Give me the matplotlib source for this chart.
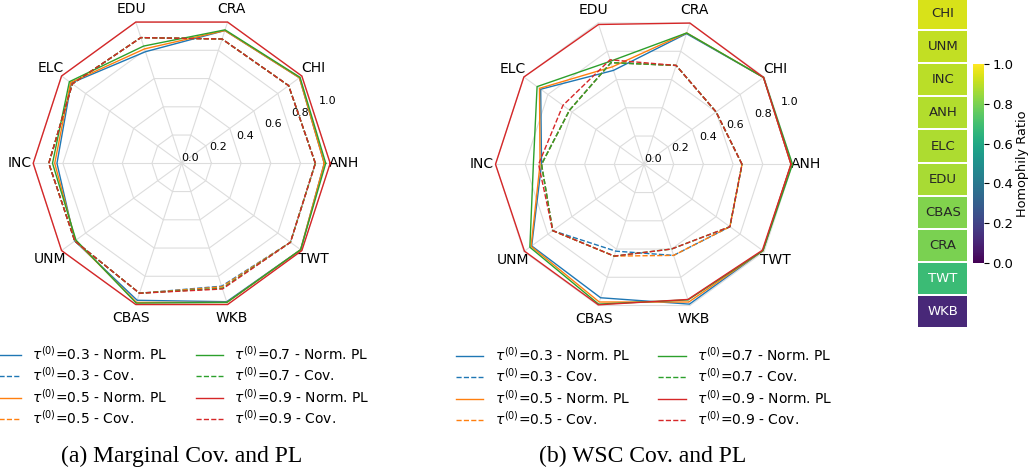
import numpy as np
import matplotlib.pyplot as plt
import seaborn as sns

cats = ["ANH", "CHI", "CRA", "EDU", "ELC", "INC", "UNM", "CBAS", "WKB", "TWT"]
taus = ["0.3", "0.5", "0.7", "0.9"]
colors = ["tab:blue", "tab:orange", "tab:green", "tab:red"]

# (a) marginal coverage and normalised prediction length
marg_pl_03 = [0.96, 0.98, 0.94, 0.79, 0.92, 0.84, 0.89, 0.97, 0.98, 0.99]
marg_pl_05 = [0.96, 0.98, 0.94, 0.81, 0.925, 0.855, 0.885, 0.985, 0.985, 0.99]
marg_pl_07 = [0.97, 0.985, 0.945, 0.83, 0.935, 0.87, 0.88, 0.99, 0.985, 0.99]
marg_pl_09 = [1.0, 1.0, 1.0, 1.0, 1.0, 1.0, 1.0, 1.0, 1.0, 1.0]
marg_cov_03 = [0.90, 0.89, 0.88, 0.89, 0.91, 0.895, 0.89, 0.92, 0.87, 0.905]
marg_cov_05 = [0.90, 0.89, 0.88, 0.89, 0.91, 0.895, 0.89, 0.92, 0.875, 0.905]
marg_cov_07 = [0.90, 0.89, 0.88, 0.89, 0.91, 0.895, 0.89, 0.92, 0.885, 0.905]
marg_cov_09 = [0.90, 0.89, 0.88, 0.89, 0.91, 0.895, 0.89, 0.92, 0.89, 0.905]

# (b) worst-slice coverage and normalised prediction length
wsc_pl_03 = [0.99, 0.995, 0.925, 0.665, 0.86, 0.69, 0.935, 0.945, 0.99, 0.99]
wsc_pl_05 = [0.99, 0.995, 0.93, 0.69, 0.87, 0.70, 0.94, 0.975, 0.975, 0.99]
wsc_pl_07 = [1.0, 0.995, 0.93, 0.73, 0.89, 0.745, 0.95, 0.99, 0.96, 0.99]
wsc_pl_09 = [0.99, 0.995, 1.0, 0.99, 1.0, 1.0, 0.995, 0.995, 0.957, 0.985]
wsc_cov_03 = [0.66, 0.60, 0.70, 0.72, 0.62, 0.69, 0.76, 0.615, 0.645, 0.715]
wsc_cov_05 = [0.66, 0.60, 0.70, 0.72, 0.62, 0.69, 0.76, 0.65, 0.645, 0.715]
wsc_cov_07 = [0.66, 0.60, 0.70, 0.72, 0.62, 0.69, 0.76, 0.65, 0.60, 0.715]
wsc_cov_09 = [0.66, 0.60, 0.70, 0.74, 0.675, 0.71, 0.76, 0.65, 0.60, 0.715]

# homophily ratio per dataset
homo_names = ["CHI", "UNM", "INC", "ANH", "ELC", "EDU", "CBAS", "CRA", "TWT", "WKB"]
homo_vals = [0.94, 0.91, 0.895, 0.885, 0.875, 0.87, 0.81, 0.80, 0.68, 0.11]

W, H = 1031, 472
fig = plt.figure(figsize=(W / 100, H / 100), dpi=100)


def px_axes(x0, y0, x1, y1, **kw):
    return fig.add_axes([x0 / W, 1 - y1 / H, (x1 - x0) / W, (y1 - y0) / H], **kw)


def radar(ax, pl, cov, caption, cx):
    angles = np.linspace(0, 2 * np.pi, len(cats), endpoint=False)
    closed = np.append(angles, angles[0])
    for r in [0.2, 0.4, 0.6, 0.8, 1.0]:
        ax.plot(closed, [r] * len(closed), color="#dddddd", lw=0.8, zorder=0, clip_on=False)
    for a in angles:
        ax.plot([a, a], [0, 1], color="#dddddd", lw=0.8, zorder=0, clip_on=False)
    for t, c, p, v in zip(taus, colors, pl, cov):
        ax.plot(closed, p + p[:1], color=c, lw=1.0, clip_on=False,
                label=r"$\tau^{(0)}$=" + t + " - Norm. PL")
        ax.plot(closed, v + v[:1], color=c, lw=1.0, ls="--", clip_on=False,
                label=r"$\tau^{(0)}$=" + t + " - Cov.")
    ax.set_ylim(0, 1)
    ax.set_yticks([0, 0.2, 0.4, 0.6, 0.8, 1.0])
    ax.set_yticklabels(["0.0", "0.2", "0.4", "0.6", "0.8", "1.0"])
    ax.set_rlabel_position(22.5)
    ax.set_xticks(angles)
    ax.set_xticklabels(cats)
    ax.tick_params(axis="x", labelsize=10, pad=-0.5)
    ax.tick_params(axis="y", labelsize=8)
    ax.grid(False)
    ax.spines["polar"].set_visible(False)
    ax.legend(loc="upper center", bbox_to_anchor=(0.5, -0.11), ncol=2, frameon=False,
              fontsize=10, handlelength=2.0, handletextpad=0.8, columnspacing=2.0,
              labelspacing=0.26, borderaxespad=0, borderpad=0)
    fig.text(cx / W, 1 - 456 / H, caption, ha="center", va="center",
             family="Liberation Serif", fontsize=17)


ax1 = px_axes(33.2, 14.8, 330.2, 311.8, projection="polar")
radar(ax1, [marg_pl_03, marg_pl_05, marg_pl_07, marg_pl_09],
      [marg_cov_03, marg_cov_05, marg_cov_07, marg_cov_09],
      "(a) Marginal Cov. and PL", 181.5)

ax2 = px_axes(495.5, 15.8, 792.5, 312.8, projection="polar")
radar(ax2, [wsc_pl_03, wsc_pl_05, wsc_pl_07, wsc_pl_09],
      [wsc_cov_03, wsc_cov_05, wsc_cov_07, wsc_cov_09],
      "(b) WSC Cov. and PL", 643)

# homophily column with its colour bar
hax = px_axes(917.3, -3.1, 968.3, 328.3)
cax = px_axes(973.3, 64.3, 984, 262.7)
sns.heatmap(np.array(homo_vals)[:, None], ax=hax, cbar_ax=cax, cmap="viridis",
            vmin=0, vmax=1, annot=np.array(homo_names)[:, None], fmt="",
            annot_kws={"fontsize": 9.5}, linewidths=1.2, linecolor="white",
            xticklabels=False, yticklabels=False)
cax.set_ylabel("Homophily Ratio", fontsize=9.3, labelpad=2)
cax.tick_params(labelsize=9.5, pad=2.5)

fig.savefig("out.png", dpi=100)
